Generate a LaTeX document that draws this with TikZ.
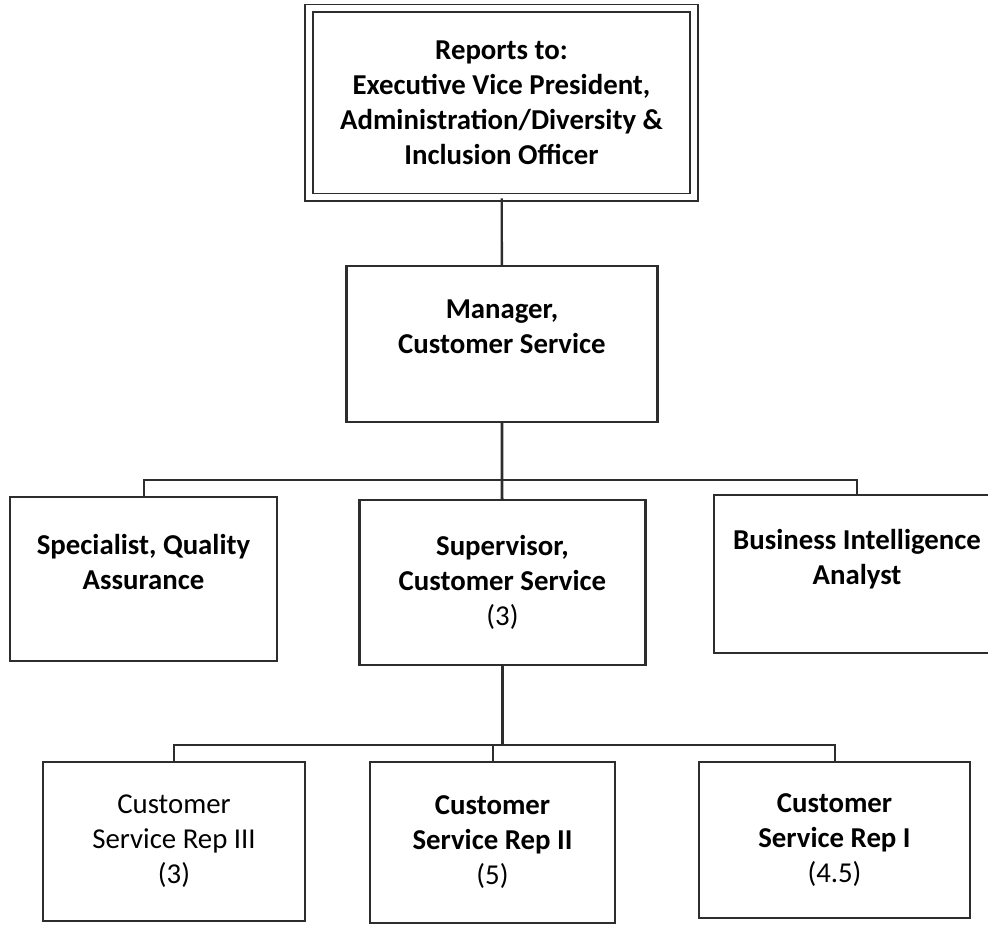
\documentclass[tikz,border=0pt]{standalone}
\usepackage{fontspec}
\setmainfont{Carlito}
\definecolor{boxline}{RGB}{45, 45, 45}

\begin{document}
\begin{tikzpicture}[x=0.5pt, y=-0.5pt,
    box/.style={draw=boxline, line width=1.1pt, rectangle, align=center, inner sep=2pt,
                font=\fontsize{14.4}{17.5}\selectfont\bfseries},
    link/.style={draw=boxline, line width=1pt}]
    \useasboundingbox (0,0) rectangle (988,924);

    \node[box, double, double distance=3pt, line width=0.9pt, minimum width=192.5pt, minimum height=94.5pt] (top) at (501.5,103)
        {Reports to:\\ Executive Vice President,\\ Administration/Diversity \&\\ Inclusion Officer};
    \node[box, minimum width=155.5pt, minimum height=78pt] (mgr) at (502,344) {Manager,\\ Customer Service\\ \mbox{}};

    \node[box, minimum width=133.5pt, minimum height=82pt] (spec) at (143.5,579) {Specialist, Quality\\ Assurance\\ \mbox{}};
    \node[box, minimum width=143pt, minimum height=82.5pt] (sup) at (502.5,582.5) {Supervisor,\\ Customer Service\\ {\mdseries (3)}};
    \node[box, minimum width=143pt, minimum height=79pt] (bia) at (857,574) {Business Intelligence\\ Analyst\\ \mbox{}};

    \node[box, minimum width=131pt, minimum height=79.5pt] (csr3) at (174,841.5) {\mdseries Customer\\ \mdseries Service Rep III\\ \mdseries (3)};
    \node[box, minimum width=122.5pt, minimum height=80.5pt] (csr2) at (492.5,842.5) {Customer\\ Service Rep II\\ {\mdseries (5)}};
    \node[box, minimum width=135.5pt, minimum height=78pt] (csr1) at (834.5,840) {Customer\\ Service Rep I\\ {\mdseries (4.5)}};

    \coordinate (bus1) at (502,480);
    \coordinate (bus2) at (502.5,745);

    \draw[link, line width=1.2pt] (top) -- (mgr);
    \draw[link, line width=1.4pt] (mgr) -- (bus1) -- (sup);
    \draw[link] (bus1) -| (spec);
    \draw[link] (bus1) -| (bia);

    \draw[link, line width=1.4pt] (sup) -- (bus2);
    \draw[link] (bus2) -| (csr3);
    \draw[link] (bus2) -| (csr2);
    \draw[link] (bus2) -| (csr1);
\end{tikzpicture}
\end{document}
